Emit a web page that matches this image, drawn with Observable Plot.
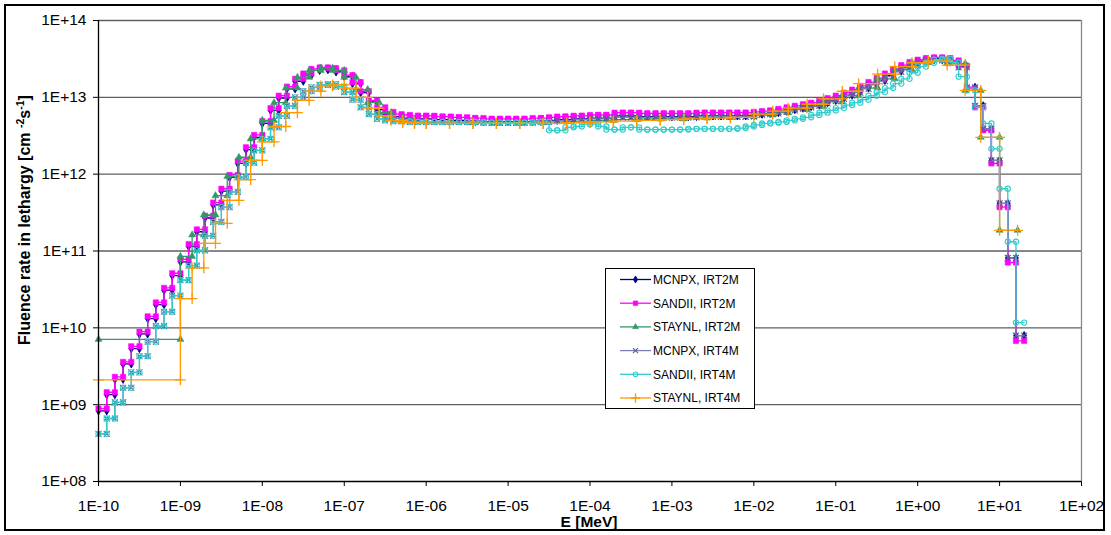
<!DOCTYPE html>
<html><head><meta charset="utf-8">
<script src="https://cdn.jsdelivr.net/npm/d3@7"></script>
<script src="https://cdn.jsdelivr.net/npm/@observablehq/plot@0.6"></script>
<style>
body{margin:0;background:#fff;}
#wrap{position:relative;width:1111px;height:535px;overflow:hidden;font-family:"Liberation Sans",Arial,sans-serif;background:#fff;}
#wrap svg{position:absolute;left:0;top:0;}
#frame{position:absolute;left:4px;top:4px;width:1097px;height:523px;border:2px solid #000;pointer-events:none;}
</style></head><body><div id="wrap"></div>
<script>
// ---- tick values and labels ----
const xTicks = [1e-10,1e-9,1e-8,1e-7,1e-6,1e-5,1e-4,1e-3,1e-2,1e-1,1e0,1e1,1e2];
const xTickLabels = ["1E-10","1E-09","1E-08","1E-07","1E-06","1E-05","1E-04","1E-03","1E-02","1E-01","1E+00","1E+01","1E+02"];
const yTicks = [1e8,1e9,1e10,1e11,1e12,1e13,1e14];
const yTickLabels = ["1E+08","1E+09","1E+10","1E+11","1E+12","1E+13","1E+14"];

// ---- energy group structures (MeV) ----
// fine structure: 10 groups per decade from 1E-10 MeV up to ~20 MeV
const decadeMantissas = [1, 1.259, 1.585, 1.995, 2.512, 3.162, 3.981, 5.012, 6.310, 7.943];
const fineDecades = [-10,-9,-8,-7,-6,-5,-4,-3,-2,-1,0,1];
const fineCount = 114; // 113 groups
// STAYNL group boundaries (MeV)
const staynlEdges = [1e-10, 1e-9, 1.39e-9, 1.93e-9, 2.68e-9, 3.73e-9, 5.18e-9, 7.2e-9, 1e-8, 1.39e-8, 1.93e-8, 2.68e-8, 3.73e-8, 5.18e-8, 7.2e-8, 1e-7, 1.39e-7, 1.93e-7, 2.68e-7, 3.73e-7, 5.18e-7, 7.2e-7, 1e-6,
  1.93e-6, 3.73e-6, 7.2e-6, 1.39e-5, 2.68e-5, 5.18e-5, 1e-4, 1.93e-4, 3.73e-4, 7.2e-4, 1.39e-3, 2.68e-3, 5.18e-3, 1e-2,
  1.7e-2, 2.63e-2, 4.47e-2, 7.08e-2, 0.12, 0.19, 0.324, 0.525, 0.851, 1.35, 2.29, 3.8, 5.89, 10, 16.6];

// ---- group fluence rates in lethargy [cm-2 s-1] ----
const mcnpxIRT2M = [
 8.3e8, 1.35e9, 2.14e9, 3.39e9, 5.37e9, 8.32e9, 1.32e10, 2.0e10, 3.09e10, 4.79e10,
 7.24e10, 1.15e11, 1.78e11, 2.69e11, 3.98e11, 6.03e11, 9.12e11, 1.38e12, 2.09e12, 3.02e12,
 4.57e12, 6.76e12, 9.77e12, 1.29e13, 1.62e13, 1.95e13, 2.24e13, 2.34e13, 2.29e13, 2.14e13,
 1.86e13, 1.51e13, 1.15e13, 8.71e12, 6.92e12, 6.03e12, 5.62e12, 5.37e12, 5.25e12, 5.25e12,
 5.25e12, 5.13e12, 5.13e12, 5.01e12, 5.01e12, 4.9e12, 4.9e12, 4.79e12, 4.79e12, 4.79e12,
 4.79e12, 4.79e12, 4.79e12, 4.9e12, 4.9e12, 5.01e12, 5.13e12, 5.13e12, 5.25e12, 5.25e12,
 5.37e12, 5.37e12, 5.37e12, 5.75e12, 5.75e12, 5.75e12, 5.62e12, 5.62e12, 5.62e12, 5.62e12,
 5.62e12, 5.62e12, 5.62e12, 5.75e12, 5.75e12, 5.75e12, 5.75e12, 5.75e12, 5.75e12, 5.75e12,
 6.03e12, 6.17e12, 6.31e12, 6.61e12, 6.92e12, 7.24e12, 7.59e12, 7.94e12, 8.51e12, 9.12e12,
 9.77e12, 1.07e13, 1.17e13, 1.32e13, 1.48e13, 1.66e13, 1.91e13, 2.19e13, 2.45e13, 2.69e13,
 2.95e13, 3.09e13, 3.16e13, 3.09e13, 2.88e13, 2.51e13, 1.35e13, 7.76e12, 3.89e12, 1.51e12,
 4.17e11, 8.13e10, 7.94e9];
const sandiiIRT2M = [
 8.9e8, 1.45e9, 2.3e9, 3.6e9, 5.75e9, 8.9e9, 1.41e10, 2.14e10, 3.31e10, 5.13e10,
 7.76e10, 1.23e11, 1.91e11, 2.88e11, 4.27e11, 6.46e11, 9.77e11, 1.48e12, 2.24e12, 3.24e12,
 4.9e12, 7.24e12, 1.05e13, 1.38e13, 1.74e13, 2.04e13, 2.34e13, 2.45e13, 2.4e13, 2.24e13,
 1.95e13, 1.58e13, 1.2e13, 9.12e12, 7.41e12, 6.46e12, 6.03e12, 5.89e12, 5.75e12, 5.75e12,
 5.75e12, 5.62e12, 5.62e12, 5.5e12, 5.5e12, 5.37e12, 5.37e12, 5.25e12, 5.25e12, 5.25e12,
 5.25e12, 5.25e12, 5.25e12, 5.37e12, 5.37e12, 5.5e12, 5.62e12, 5.62e12, 5.75e12, 5.75e12,
 5.89e12, 5.89e12, 5.89e12, 6.31e12, 6.31e12, 6.31e12, 6.17e12, 6.17e12, 6.17e12, 6.17e12,
 6.17e12, 6.17e12, 6.17e12, 6.31e12, 6.31e12, 6.31e12, 6.31e12, 6.31e12, 6.31e12, 6.31e12,
 6.46e12, 6.61e12, 6.76e12, 7.08e12, 7.41e12, 7.76e12, 8.13e12, 8.51e12, 9.12e12, 9.77e12,
 1.05e13, 1.15e13, 1.26e13, 1.41e13, 1.58e13, 1.78e13, 2.04e13, 2.34e13, 2.63e13, 2.88e13,
 3.09e13, 3.24e13, 3.31e13, 3.24e13, 3.02e13, 2.57e13, 1.32e13, 7.41e12, 3.72e12, 1.38e12,
 3.72e11, 7.08e10, 6.76e9];
const staynlIRT2M = [
 7.08e9,
 8.51e10, 1.62e11, 2.95e11, 5.25e11, 9.33e11, 1.66e12, 2.88e12, 5.01e12, 8.51e12, 1.32e13,
 1.82e13, 2.24e13, 2.4e13, 2.24e13, 1.82e13, 1.26e13, 8.51e12, 6.31e12, 5.37e12, 5.01e12, 4.9e12,
 4.79e12, 4.79e12, 4.68e12, 4.68e12, 4.68e12, 4.79e12, 4.9e12, 5.01e12, 5.13e12, 5.25e12, 5.25e12, 5.37e12, 5.5e12, 5.62e12,
 5.89e12, 6.31e12, 6.92e12, 7.59e12, 8.71e12, 1.05e13, 1.32e13, 1.74e13, 2.29e13, 2.82e13, 3.09e13, 2.75e13, 1.23e13, 3.02e12, 1.86e11];
const mcnpxIRT4M = [
 4.17e8, 6.61e8, 1.07e9, 1.66e9, 2.63e9, 4.27e9, 6.61e9, 1.05e10, 1.62e10, 2.63e10,
 4.17e10, 6.46e10, 1.02e11, 1.58e11, 2.4e11, 3.72e11, 5.89e11, 9.12e11, 1.41e12, 2.04e12,
 2.88e12, 4.07e12, 5.75e12, 7.76e12, 1.0e13, 1.2e13, 1.35e13, 1.45e13, 1.48e13, 1.38e13,
 1.17e13, 9.33e12, 7.41e12, 6.03e12, 5.25e12, 5.01e12, 4.9e12, 4.9e12, 4.79e12, 4.79e12,
 4.79e12, 4.79e12, 4.79e12, 4.79e12, 4.79e12, 4.79e12, 4.79e12, 4.68e12, 4.68e12, 4.68e12,
 4.68e12, 4.68e12, 4.68e12, 4.79e12, 4.79e12, 4.9e12, 5.01e12, 5.01e12, 5.13e12, 5.13e12,
 5.25e12, 5.25e12, 5.25e12, 5.5e12, 5.5e12, 5.5e12, 5.5e12, 5.5e12, 5.5e12, 5.5e12,
 5.5e12, 5.5e12, 5.5e12, 5.62e12, 5.62e12, 5.62e12, 5.62e12, 5.62e12, 5.62e12, 5.62e12,
 5.89e12, 6.03e12, 6.17e12, 6.46e12, 6.76e12, 7.08e12, 7.41e12, 7.76e12, 8.32e12, 8.91e12,
 9.55e12, 1.05e13, 1.15e13, 1.29e13, 1.45e13, 1.62e13, 1.86e13, 2.14e13, 2.4e13, 2.63e13,
 2.88e13, 3.02e13, 3.09e13, 3.02e13, 2.82e13, 2.45e13, 1.35e13, 7.76e12, 3.89e12, 1.51e12,
 4.17e11, 8.13e10, 7.94e9];
const sandiiIRT4M = [
 4.17e8, 6.61e8, 1.07e9, 1.66e9, 2.63e9, 4.27e9, 6.61e9, 1.05e10, 1.62e10, 2.63e10,
 4.17e10, 6.46e10, 1.02e11, 1.58e11, 2.4e11, 3.72e11, 5.89e11, 9.12e11, 1.41e12, 2.04e12,
 2.88e12, 4.07e12, 5.75e12, 7.76e12, 1.0e13, 1.2e13, 1.35e13, 1.45e13, 1.48e13, 1.38e13,
 1.17e13, 9.33e12, 7.41e12, 6.03e12, 5.25e12, 5.01e12, 4.9e12, 4.9e12, 4.79e12, 4.79e12,
 4.79e12, 4.79e12, 4.79e12, 4.79e12, 4.79e12, 4.79e12, 4.79e12, 4.68e12, 4.68e12, 4.68e12,
 4.68e12, 4.68e12, 4.68e12, 4.79e12, 4.79e12, 3.72e12, 3.72e12, 4.07e12, 4.17e12, 4.47e12,
 4.47e12, 4.17e12, 3.8e12, 3.8e12, 4.07e12, 4.07e12, 3.8e12, 3.8e12, 3.8e12, 3.8e12,
 3.8e12, 3.8e12, 3.89e12, 3.89e12, 3.89e12, 3.89e12, 3.89e12, 3.89e12, 3.98e12, 4.17e12,
 4.37e12, 4.57e12, 4.68e12, 4.79e12, 5.01e12, 5.25e12, 5.5e12, 5.89e12, 6.31e12, 6.76e12,
 7.24e12, 7.94e12, 8.51e12, 9.33e12, 1.05e13, 1.17e13, 1.32e13, 1.51e13, 1.74e13, 2.09e13,
 2.51e13, 2.82e13, 3.09e13, 3.16e13, 2.82e13, 1.86e13, 1.23e13, 7.41e12, 4.57e12, 2.14e12,
 6.46e11, 1.32e11, 1.17e10];
const staynlIRT4M = [
 2.1e9,
 2.4e10, 6.03e10, 1.26e11, 2.29e11, 4.57e11, 8.51e11, 1.51e12, 2.63e12, 4.17e12, 6.31e12,
 9.12e12, 1.2e13, 1.41e13, 1.45e13, 1.32e13, 1.0e13, 7.24e12, 5.75e12, 5.01e12, 4.68e12, 4.57e12,
 4.57e12, 4.57e12, 4.57e12, 4.57e12, 4.57e12, 4.57e12, 4.68e12, 4.79e12, 4.9e12, 5.01e12, 5.13e12, 5.25e12, 5.37e12, 5.5e12,
 6.03e12, 6.61e12, 7.24e12, 8.13e12, 9.55e12, 1.2e13, 1.51e13, 2.0e13, 2.51e13, 2.82e13, 2.95e13, 2.63e13, 1.23e13, 3.02e12, 1.86e11];

const seriesNames = ["MCNPX, IRT2M","SANDII, IRT2M","STAYNL, IRT2M","MCNPX, IRT4M","SANDII, IRT4M","STAYNL, IRT4M"];

// ---- build tables ----
const fineEdges = fineDecades.flatMap(d => decadeMantissas.map(m => m * Math.pow(10, d))).slice(0, fineCount - 1);
fineEdges.push(19.95);

const styles = [
  {line:"#000080", symbol:"diamond", fill:"#000080", stroke:"#000080", r:2.5, sw:0.8},
  {line:"#FF00FF", symbol:"square", fill:"#FF00FF", stroke:"#FF00FF", r:3.0, sw:0.5},
  {line:"#339966", symbol:"triangle", fill:"#339966", stroke:"#339966", r:2.6, sw:0.5},
  {line:"#8080B8", symbol:"times", fill:"none", stroke:"#5C5C99", r:2.8, sw:1.1},
  {line:"#33CCCC", symbol:"circle", fill:"none", stroke:"#33CCCC", r:2.6, sw:1.1},
  {line:"#FF9900", symbol:"plus", fill:"none", stroke:"#FF9900", r:3.6, sw:1.3}
];
const seriesData = [
  [fineEdges, mcnpxIRT2M], [fineEdges, sandiiIRT2M], [staynlEdges, staynlIRT2M],
  [fineEdges, mcnpxIRT4M], [fineEdges, sandiiIRT4M], [staynlEdges, staynlIRT4M]
];
function stepPoints(edges, vals, name) {
  const pts = [];
  vals.forEach((v, i) => { pts.push({E: edges[i], F: v, s: name}); pts.push({E: edges[i+1], F: v, s: name}); });
  return pts;
}

const fmt = (arr, labels) => d => { const i = arr.findIndex(t => Math.abs(Math.log10(t) - Math.log10(d)) < 1e-6); return i >= 0 ? labels[i] : ""; };

const marks = [
  Plot.ruleY(yTicks.slice(1), {stroke:"#5f5f5f", strokeWidth:1.3}),
  Plot.ruleX([1e2], {stroke:"#8a8a8a", strokeWidth:1.3})
];
seriesData.forEach(([edges, vals], k) => {
  const st = styles[k];
  const pts = stepPoints(edges, vals, seriesNames[k]);
  marks.push(Plot.line(pts, {x:"E", y:"F", stroke: st.line, strokeWidth: 1.3}));
  marks.push(Plot.dot(pts, {x:"E", y:"F", symbol: () => st.symbol, r: st.r, fill: st.fill, stroke: st.stroke, strokeWidth: st.sw}));
});
marks.push(Plot.ruleY([1e8], {stroke:"#000", strokeWidth:1.3}));
marks.push(Plot.ruleX([1e-10], {stroke:"#000", strokeWidth:1.3}));

const chart = Plot.plot({
  width: 1111, height: 535,
  marginLeft: 98, marginRight: 30, marginTop: 20, marginBottom: 54,
  style: {fontFamily: "'Liberation Sans', Arial, sans-serif", fontSize: "15.5px", color: "#000", background: "transparent", overflow: "visible"},
  symbol: {type: "identity"},
  x: {type: "log", domain: [1e-10, 1e2], ticks: xTicks, tickFormat: fmt(xTicks, xTickLabels), tickSize: 5, tickPadding: 13, label: null},
  y: {type: "log", domain: [1e8, 1e14], ticks: yTicks, tickFormat: fmt(yTicks, yTickLabels), tickSize: 5, tickPadding: 7, label: null},
  marks
});
const wrap = document.getElementById("wrap");
wrap.appendChild(chart);

// axis titles
const svg = d3.select(chart);
svg.append("text").attr("x", 589).attr("y", 527).attr("text-anchor", "middle")
  .attr("font-weight", "bold").attr("font-size", "15.5px").attr("fill", "#000").text("E [MeV]");
const yl = svg.append("text").attr("transform", "translate(30,220) rotate(-90)").attr("text-anchor", "middle")
  .attr("font-weight", "bold").attr("font-size", "16px").attr("fill", "#000");
yl.append("tspan").text("Fluence rate in lethargy [cm ");
yl.append("tspan").attr("font-size", "10.5px").attr("dy", "-6").text("-2");
yl.append("tspan").attr("dy", "6").text("s");
yl.append("tspan").attr("font-size", "10.5px").attr("dy", "-6").text("-1");
yl.append("tspan").attr("dy", "6").text("]");

// outer chart frame
const frame = document.createElement("div"); frame.id = "frame"; wrap.appendChild(frame);

// legend
const lg = d3.select(wrap).append("svg").attr("width", 152).attr("height", 143)
  .style("left", "604px").style("top", "267px").style("font-family", "'Liberation Sans', Arial, sans-serif");
lg.append("rect").attr("x", 1.5).attr("y", 1.5).attr("width", 149).attr("height", 140).attr("fill", "#fff").attr("stroke", "#000").attr("stroke-width", 1);
const symMap = {diamond: d3.symbolDiamond, square: d3.symbolSquare, triangle: d3.symbolTriangle, times: d3.symbolTimes, circle: d3.symbolCircle, plus: d3.symbolPlus};
seriesNames.forEach((name, k) => {
  const st = styles[k]; const y = 12.5 + k * 23.7;
  lg.append("line").attr("x1", 16).attr("x2", 47).attr("y1", y).attr("y2", y).attr("stroke", st.line).attr("stroke-width", 1.3);
  lg.append("path").attr("transform", `translate(31.5,${y})`).attr("d", d3.symbol(symMap[st.symbol], Math.PI * st.r * st.r * 0.75)())
    .attr("fill", st.fill).attr("stroke", st.stroke).attr("stroke-width", st.sw);
  lg.append("text").attr("x", 49).attr("y", y).attr("dy", "0.36em").attr("font-size", "12px").attr("fill", "#000").text(name);
});
</script></body></html>
